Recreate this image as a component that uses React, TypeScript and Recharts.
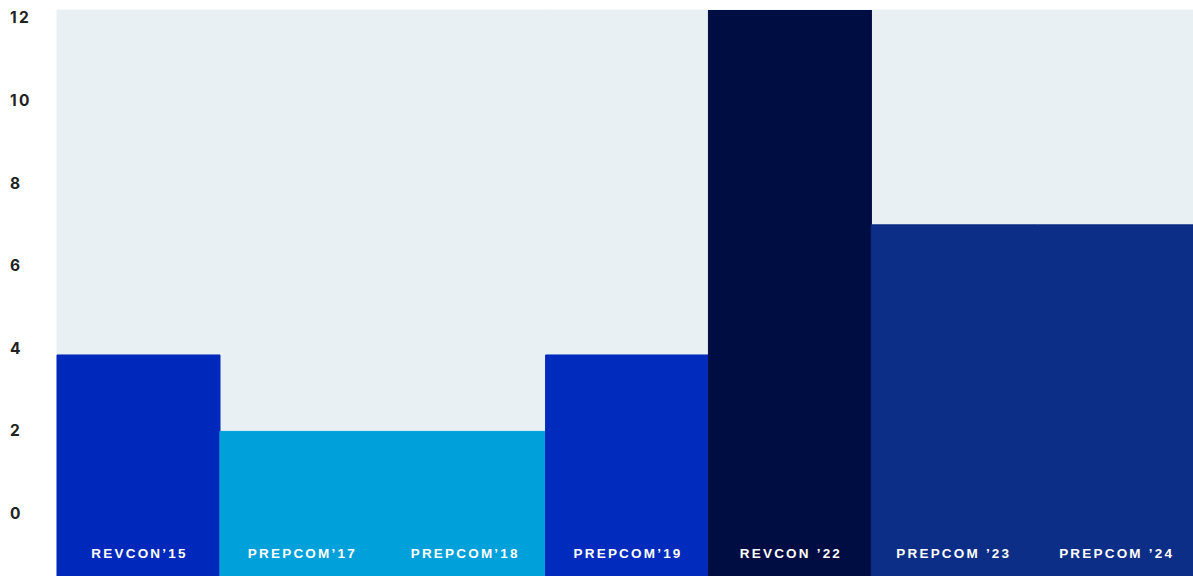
import { BarChart, Bar, XAxis, YAxis, Cell, LabelList } from 'recharts'

const events = ['REVCON’15', 'PREPCOM’17', 'PREPCOM’18', 'PREPCOM’19', 'REVCON ’22', 'PREPCOM ’23', 'PREPCOM ’24']
const counts = [3.85, 2, 2, 3.85, 12.2, 7, 7]
const colors = ['#0029bc', '#00a0da', '#00a0da', '#002bbd', '#000d42', '#0d2e87', '#0d2e87']
const yTicks = [0, 2, 4, 6, 8, 10, 12]

const BASE = -1.5
const TRACK = '#e8f0f4'

const data = events.map((name, i) => ({ name, count: counts[i] }))

function YTick({ y, payload }: any) {
  return (
    <text x={10} y={y} dy={5} textAnchor="start" fill="#222" fontFamily="Inter, sans-serif" fontWeight={700} fontSize={15.5} letterSpacing={2.4}>
      {payload.value}
    </text>
  )
}

function BarName({ x, y, width, height, value }: any) {
  return (
    <text
      x={x + width / 2 + 1}
      y={y + height - 18}
      textAnchor="middle"
      fill="#fff"
      fontFamily="'Liberation Sans', Arial, sans-serif"
      fontWeight={700}
      fontSize={13.5}
      letterSpacing={2.2}
    >
      {value}
    </text>
  )
}

export default function App() {
  return (
    <div style={{ position: 'absolute', left: 0, top: 0, width: 1193, height: 576, overflow: 'hidden' }}>
      {/* plot runs a few px past the right edge, like the original */}
      <BarChart width={1197} height={576} data={data} margin={{ top: 10, right: 0, bottom: 0, left: 0 }} barCategoryGap={0}>
        <XAxis dataKey="name" hide />
        <YAxis
          type="number"
          domain={[BASE, 12.2]}
          ticks={yTicks}
          width={57}
          axisLine={false}
          tickLine={false}
          tick={<YTick />}
          allowDataOverflow
        />
        <Bar
          dataKey={(d: any) => [BASE, d.count]}
          background={{ fill: TRACK, stroke: TRACK, strokeWidth: 1 }}
          isAnimationActive={false}
        >
          {data.map((d, i) => (
            <Cell key={d.name} fill={colors[i]} stroke={colors[i]} strokeWidth={1} />
          ))}
          <LabelList dataKey="name" content={<BarName />} />
        </Bar>
      </BarChart>
    </div>
  )
}
